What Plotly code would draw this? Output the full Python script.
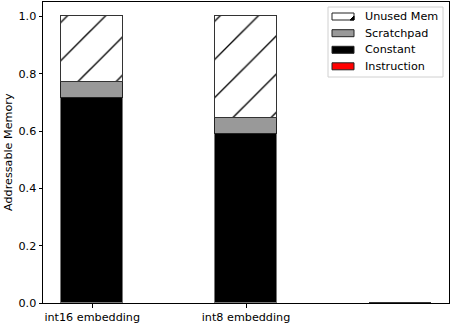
import plotly.graph_objects as go

categories = ["int16 embedding", "int8 embedding", ""]
positions = [0, 1, 2]
instruction = [0.0, 0.0, 0.0]
constant = [0.714, 0.588, 0.0]
scratchpad = [0.056, 0.057, 0.0]
unused = [0.230, 0.355, 0.0]
tick_vals = [0, 1]
tick_text = ["int16 embedding", "int8 embedding"]
y_ticks = [0.0, 0.2, 0.4, 0.6, 0.8, 1.0]
legend_names = ["Unused Mem", "Scratchpad", "Constant", "Instruction"]
legend_colors = ["white", "#999999", "black", "red"]

W, H = 450, 324
L, R, T, B = 43, 1, 2, 21
PW, PH = W - L - R, H - T - B
FS = 11.2


def px(x):
    return (x - L) / PW


def py(y):
    return (H - B - y) / PH


edge = dict(color="#333333", width=1)
fig = go.Figure()
fig.add_trace(go.Bar(x=positions, y=instruction, name="Instruction", width=0.4,
                     marker=dict(color="red", line=edge)))
fig.add_trace(go.Bar(x=positions, y=constant, name="Constant", width=0.4,
                     marker=dict(color="black", line=dict(color="#777777", width=1))))
fig.add_trace(go.Bar(x=positions, y=scratchpad, name="Scratchpad", width=0.4,
                     marker=dict(color="#999999", line=dict(color="#222222", width=1))))
fig.add_trace(go.Bar(x=positions, y=unused, name="Unused Mem", width=0.4,
                     marker=dict(color="white", line=dict(color="#333333", width=1),
                                 pattern=dict(shape="/", fgcolor="black", bgcolor="white",
                                              fgopacity=1, fillmode="replace",
                                              size=27, solidity=0.05))))

shapes = []
annotations = []
# legend box
shapes.append(dict(type="rect", xref="paper", yref="paper",
                   x0=px(328), x1=px(443), y0=py(77), y1=py(7),
                   line=dict(color="#d0d0d0", width=1), fillcolor="rgba(255,255,255,0.8)",
                   layer="above"))
entry_y = [16.5, 33.2, 49.8, 66.3]
for name, col, yc in zip(legend_names, legend_colors, entry_y):
    shapes.append(dict(type="rect", xref="paper", yref="paper",
                       x0=px(332), x1=px(354), y0=py(yc + 3.5), y1=py(yc - 3.5),
                       line=dict(color="#222222", width=1), fillcolor=col, layer="above"))
    annotations.append(dict(text=name, xref="paper", yref="paper", x=px(363), y=py(yc),
                            xanchor="left", yanchor="middle", showarrow=False,
                            font=dict(size=FS, color="black")))
# hatch hint on the Unused Mem legend patch
shapes.append(dict(type="path", xref="paper", yref="paper",
                   path="M {} {} L {} {} L {} {} Z".format(px(350), py(entry_y[0] + 3.5),
                                                           px(354), py(entry_y[0] - 0.5),
                                                           px(354), py(entry_y[0] + 3.5)),
                   line=dict(color="black", width=1), fillcolor="black", layer="above"))
annotations.append(dict(text="Addressable Memory", xref="paper", yref="paper",
                        x=px(8), y=py(152), xanchor="center", yanchor="middle",
                        textangle=-90, showarrow=False, font=dict(size=FS, color="black")))

fig.update_layout(
    barmode="stack",
    width=W, height=H,
    margin=dict(l=L, r=R, t=T, b=B),
    paper_bgcolor="white", plot_bgcolor="white",
    font=dict(family="DejaVu Sans", size=FS, color="black"),
    showlegend=False,
    bargap=0,
    shapes=shapes,
    annotations=annotations,
)
fig.update_xaxes(range=[-0.32, 2.32], tickvals=tick_vals, ticktext=tick_text,
                 showline=True, linecolor="black", linewidth=1, mirror=True,
                 ticks="outside", ticklen=3.5, tickcolor="black", showgrid=False, zeroline=False)
fig.update_yaxes(range=[0, 1.05], tickvals=y_ticks, tickformat=".1f",
                 showline=True, linecolor="black", linewidth=1, mirror=True,
                 ticks="outside", ticklen=3.5, tickcolor="black", showgrid=False, zeroline=False)

fig.write_html("out.html", config={"displayModeBar": False},
               post_script="document.body.style.margin='0';document.body.style.padding='0';")
